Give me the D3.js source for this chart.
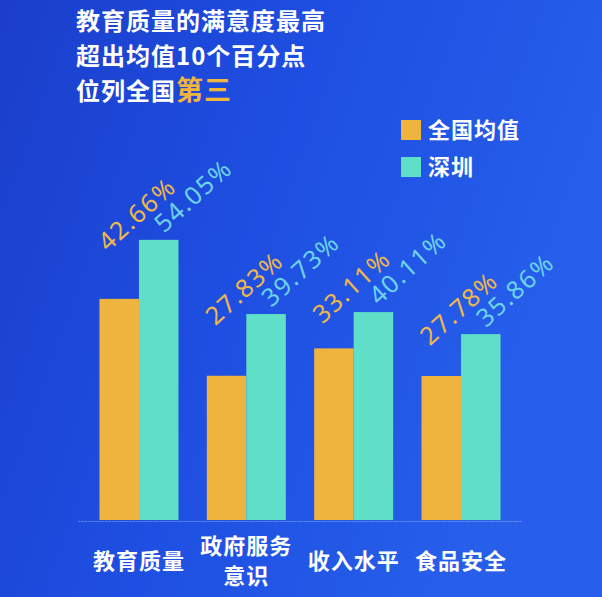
<!DOCTYPE html>
<html>
<head>
<meta charset="utf-8">
<script src="https://cdn.jsdelivr.net/npm/d3@7"></script>
<style>
  body { margin: 0; background: #1f4bdb; }
  text { font-family: "Noto Sans CJK SC", "Noto Sans", sans-serif; }
  text.val { font-family: "Noto Sans", sans-serif; font-size: 25px; letter-spacing: 1.6px; }
</style>
</head>
<body>
<div id="chart"></div>
<script>
var width = 602,
    height = 597;

// data
var categories = ["教育质量", "政府服务\n意识", "收入水平", "食品安全"];
var seriesNames = ["全国均值", "深圳"];
var nationalValues = [42.66, 27.83, 33.11, 27.78];
var shenzhenValues = [54.05, 39.73, 40.11, 35.86];
var titleLines = ["教育质量的满意度最高", "超出均值10个百分点", "位列全国"];
var titleHighlight = "第三";

var barColors = ["#eeb43e", "#60dfc8"];
var labelColors = ["#f0b749", "#6dd3ea"];

var svg = d3.select("#chart").append("svg")
    .attr("width", width)
    .attr("height", height);

// background
var defs = svg.append("defs");
var grad = defs.append("linearGradient")
    .attr("id", "bg")
    .attr("x1", "0").attr("y1", "0")
    .attr("x2", "1").attr("y2", "0.35");
grad.append("stop").attr("offset", "0").attr("stop-color", "#1b3ecb");
grad.append("stop").attr("offset", "0.5").attr("stop-color", "#1e4fe2");
grad.append("stop").attr("offset", "1").attr("stop-color", "#275feb");
svg.append("rect")
    .attr("width", width)
    .attr("height", height)
    .attr("fill", "url(#bg)");

// title
var title = svg.append("g").attr("fill", "#fff")
    .style("font-size", "24px")
    .style("font-weight", "bold")
    .style("letter-spacing", "1px");
titleLines.forEach(function (line, i) {
    var t = title.append("text")
        .attr("x", 76)
        .attr("y", 30 + i * 35)
        .text(line);
    if (i == titleLines.length - 1) {
        t.append("tspan")
            .attr("fill", "#f2b53c")
            .style("font-size", "27px")
            .text(titleHighlight);
    }
});

// legend
var legend = svg.append("g").selectAll("g")
    .data(seriesNames)
    .enter()
    .append("g")
    .attr("transform", function (d, i) {
        return "translate(401," + (120 + i * 37) + ")";
    });
legend.append("rect")
    .attr("width", 20)
    .attr("height", 20)
    .attr("fill", function (d, i) { return barColors[i]; });
legend.append("text")
    .attr("x", 27)
    .attr("y", 18)
    .attr("fill", "#fff")
    .style("font-size", "22px")
    .style("font-weight", "bold")
    .style("letter-spacing", "1px")
    .text(function (d) { return d; });

// scales
var x = d3.scaleBand()
    .domain(categories)
    .range([78, 522])
    .paddingInner(0.264)
    .paddingOuter(0.2);
var x1 = d3.scaleBand()
    .domain(seriesNames)
    .range([0, x.bandwidth()]);
var y = d3.scaleLinear()
    .domain([0, 60])
    .range([520, 209]);

var data = categories.map(function (c, i) {
    return {
        category: c,
        values: [
            {series: seriesNames[0], value: nationalValues[i], s: 0},
            {series: seriesNames[1], value: shenzhenValues[i], s: 1}
        ]
    };
});

// bars
var groups = svg.append("g").selectAll("g")
    .data(data)
    .enter()
    .append("g")
    .attr("transform", function (d) {
        return "translate(" + x(d.category) + ",0)";
    });
groups.selectAll("rect")
    .data(function (d) { return d.values; })
    .enter()
    .append("rect")
    .attr("x", function (d) { return x1(d.series); })
    .attr("y", function (d) { return y(d.value); })
    .attr("width", x1.bandwidth())
    .attr("height", function (d) { return y(0) - y(d.value); })
    .attr("fill", function (d) { return barColors[d.s]; });

// value labels, rotated; the national label sits one line up-left of the Shenzhen one
var angle = -42;
groups.each(function (d) {
    var g = d3.select(this);
    var sz = d.values[1];
    var lx = x1(sz.series) + 25,
        ly = y(sz.value) - 6;
    var lab = g.append("g")
        .attr("transform", "translate(" + lx + "," + ly + ")rotate(" + angle + ")");
    lab.append("text")
        .attr("class", "val")
        .attr("fill", labelColors[1])
        .text(sz.value.toFixed(2) + "%");
    lab.append("text")
        .attr("class", "val")
        .attr("x", -54)
        .attr("y", -24)
        .attr("fill", labelColors[0])
        .text(d.values[0].value.toFixed(2) + "%");
});

// x axis
var axis = svg.append("g")
    .attr("transform", "translate(0,521)")
    .call(d3.axisBottom(x).tickSize(0).tickSizeOuter(0));
axis.select(".domain")
    .attr("stroke", "#8fa8f0")
    .attr("stroke-opacity", 0.7)
    .attr("stroke-dasharray", "2,1");
axis.selectAll(".tick text")
    .attr("fill", "#fff")
    .attr("y", 0)
    .attr("dy", null)
    .style("font-family", "'Noto Sans CJK SC', sans-serif")
    .style("font-size", "22px")
    .style("font-weight", "bold")
    .style("letter-spacing", "1px")
    .each(function (d) {
        var lines = d.split("\n");
        var t = d3.select(this).text(null);
        var base = lines.length == 1 ? 48 : 33;
        lines.forEach(function (l, i) {
            t.append("tspan")
                .attr("x", 0)
                .attr("y", base + i * 30)
                .text(l);
        });
    });
</script>
</body>
</html>
